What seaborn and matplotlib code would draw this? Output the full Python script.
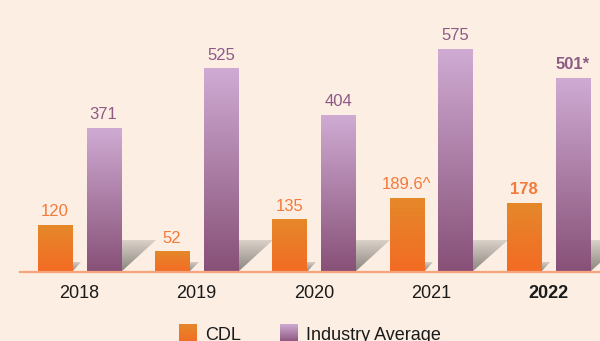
import numpy as np
import pandas as pd
import matplotlib
matplotlib.use("Agg")
import matplotlib.pyplot as plt
import seaborn as sns
from matplotlib.colors import LinearSegmentedColormap
from matplotlib.patches import Polygon

# ---- data ----
years = ["2018", "2019", "2020", "2021", "2022"]
cdl = [120, 52, 135, 189.6, 178]
industry = [371, 525, 404, 575, 501]
cdl_notes = ["", "", "", "^", ""]
industry_notes = ["", "", "", "", "*"]
series = ["CDL", "Industry Average"]

df = pd.DataFrame({
    "Year": years * 2,
    "Series": [series[0]] * len(years) + [series[1]] * len(years),
    "Value": cdl + industry,
})

# ---- style ----
bg = "#fdeee3"
orange_top, orange_bot = "#e5882a", "#f36b24"
plum_top, plum_bot = "#cfabd3", "#875077"
orange_txt, plum_txt = "#f27a3a", "#8c5a85"
cmap_cdl = LinearSegmentedColormap.from_list("cdl", [orange_bot, orange_top])
cmap_ind = LinearSegmentedColormap.from_list("ind", [plum_bot, plum_top])
cmap_shadow = LinearSegmentedColormap.from_list("shadow", ["#8a847f", "#ddd4cb"])

sns.set_theme(style="white")
plt.rcParams["font.family"] = ["Liberation Sans", "DejaVu Sans"]

fig = plt.figure(figsize=(6, 3.41), dpi=100)
fig.patch.set_facecolor(bg)
ax = fig.add_axes([20 / 600, 69 / 341, 580 / 600, 272 / 341])
ax.set_facecolor("none")

sns.barplot(data=df, x="Year", y="Value", hue="Series",
            palette=[orange_bot, plum_bot], width=0.83, gap=0.3,
            saturation=1, legend=False, ax=ax)

ax.set_xlim(-0.505, 4.44)
ax.set_ylim(0, 703)

grad = np.linspace(0, 1, 256).reshape(-1, 1)

# gradient fills and small drop shadows for each bar
shadow_size = {0: (0.08, 26), 1: (0.30, 83)}
for idx, (container, cmap) in enumerate(zip(ax.containers, [cmap_cdl, cmap_ind])):
    sw, sh = shadow_size[idx]
    for bar in container:
        x0, w, h = bar.get_x(), bar.get_width(), bar.get_height()
        ax.imshow(grad, extent=[x0, x0 + w, 0, h], origin="lower",
                  aspect="auto", cmap=cmap, zorder=2, interpolation="bicubic")
        bar.set_facecolor("none")
        bar.set_edgecolor("none")
        x1 = x0 + w
        tri = Polygon([(x1, 0), (x1, sh), (x1 + sw, sh)], closed=True,
                      facecolor="none", edgecolor="none", transform=ax.transData)
        ax.add_patch(tri)
        im = ax.imshow(grad, extent=[x1, x1 + sw, 0, sh], origin="lower",
                       aspect="auto", cmap=cmap_shadow, zorder=1,
                       interpolation="bicubic")
        im.set_clip_path(tri)

ax.set_xlim(-0.505, 4.44)
ax.set_ylim(0, 703)

# value labels
cdl_labels = [f"{v:g}{n}" for v, n in zip(cdl, cdl_notes)]
ind_labels = [f"{v:g}{n}" for v, n in zip(industry, industry_notes)]
t1 = ax.bar_label(ax.containers[0], labels=cdl_labels, padding=4.5,
                  fontsize=12, color=orange_txt)
t2 = ax.bar_label(ax.containers[1], labels=ind_labels, padding=4.5,
                  fontsize=12, color=plum_txt)
t1[-1].set_fontweight("bold")
t2[-1].set_fontweight("bold")

# axes styling
for s in ["top", "right", "left"]:
    ax.spines[s].set_visible(False)
ax.spines["bottom"].set_color("#f5a47b")
ax.spines["bottom"].set_linewidth(1.6)
ax.spines["bottom"].set_zorder(3)
ax.set_yticks([])
ax.set_xlabel("")
ax.set_ylabel("")
ax.tick_params(axis="x", length=0, pad=9.5, labelsize=13, labelcolor="#1a1a1a")
ax.get_xticklabels()[-1].set_fontweight("bold")

# legend with gradient swatches
for (xpx, txt_x, label, cmap) in [(179, 205, series[0], cmap_cdl),
                                  (280, 306, series[1], cmap_ind)]:
    lax = fig.add_axes([xpx / 600, -2 / 341, 18 / 600, 19 / 341])
    lax.imshow(grad, origin="lower", aspect="auto", cmap=cmap,
               interpolation="bicubic")
    lax.set_axis_off()
    fig.text(txt_x / 600, 1.5 / 341, label, fontsize=13, color="#1a1a1a",
             ha="left", va="baseline")

fig.savefig("out.png", dpi=100, facecolor=bg)
